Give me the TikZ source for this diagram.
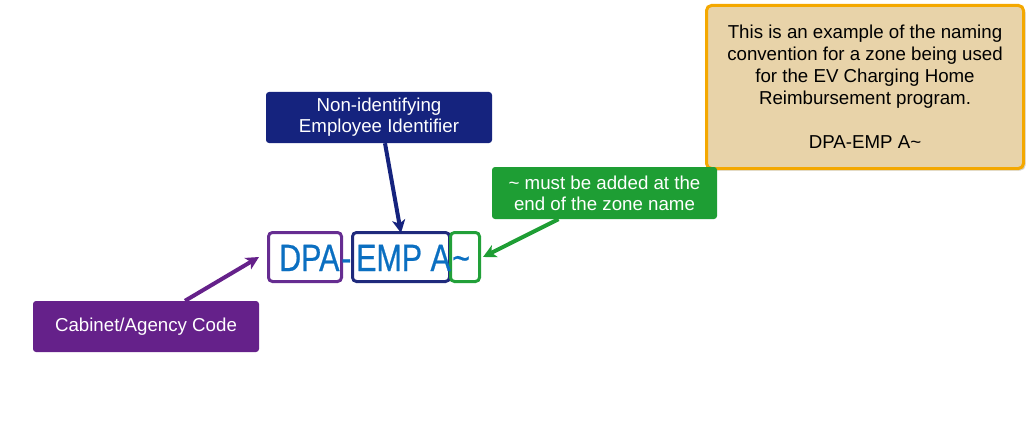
\documentclass[tikz,border=0pt]{standalone}
\usepackage{fontspec}
\setmainfont{Liberation Sans}
\newfontfamily\bigfont[FakeStretch=0.8,FakeBold=0.6]{Liberation Sans}
\usetikzlibrary{shadows,arrows.meta}
\definecolor{navyc}{HTML}{15237E}
\definecolor{greenc}{HTML}{1E9E34}
\definecolor{purplec}{HTML}{65218A}
\definecolor{notefill}{HTML}{E8D3A9}
\definecolor{noteedge}{HTML}{F4A800}
\definecolor{bigblue}{HTML}{0B6FC1}
\definecolor{purpleedge}{HTML}{662D91}
\definecolor{navyedge}{HTML}{1F2A7C}
\definecolor{greenedge}{HTML}{22A039}
\begin{document}
\begin{tikzpicture}[x=1pt,y=-1pt,
  lbl/.style={rounded corners=3pt, inner sep=0pt, align=center, text=white,
    font=\fontsize{18.7}{21}\selectfont},
  partbox/.style={draw, line width=3pt, rounded corners=4pt, inner sep=0pt},
  bigtxt/.style={inner sep=0pt, anchor=base west, text=bigblue, font=\bigfont\fontsize{38}{38}\selectfont},
  conn/.style={line width=4pt, -{Stealth[length=13pt,width=13pt,inset=3.5pt]}}]
\useasboundingbox (0,0) rectangle (1029,444);

\node[draw=noteedge, line width=3pt, fill=notefill, rounded corners=5pt,
  minimum width=317pt, minimum height=163pt, inner sep=0pt, align=center,
  font=\fontsize{18.7}{22}\selectfont,
  drop shadow={shadow xshift=2pt, shadow yshift=-2pt, opacity=0.35}] (note) at (865,87)
  {This is an example of the naming\\convention for a zone being used\\for the EV Charging Home\\Reimbursement program.\\[22pt]DPA-EMP A\textasciitilde};

\node[lbl, fill=navyc, minimum width=226pt, minimum height=51pt] (idbox) at (379,117.5)
  {Non-identifying\\Employee Identifier};
\node[lbl, fill=greenc, minimum width=225pt, minimum height=52pt] (gbox) at (604.5,193)
  {\textasciitilde{} must be added at the\\end of the zone name};
\node[lbl, fill=purplec, minimum width=226pt, minimum height=51pt] (cab) at (146,326.5)
  {Cabinet/Agency Code};

\node[partbox, draw=purpleedge, minimum width=73pt, minimum height=49pt] (dpabox) at (305,257) {};
\node[partbox, draw=navyedge, minimum width=97pt, minimum height=49pt] (empbox) at (401,257) {};
\node[partbox, draw=greenedge, minimum width=29pt, minimum height=49pt] (tbox) at (465,257) {};

\node[bigtxt] (dpa) at (279,271) {DPA};
\node[bigtxt] (dash) at (341,271) {-};
\node[bigtxt] (emp) at (356,271) {EMP A};
\node[bigtxt] (tl) at (452,271) {\textasciitilde};

\draw[conn, navyc] ([xshift=6pt]idbox.south) -- ([yshift=-2pt]empbox.north);
\draw[conn, greenc] ([xshift=-46pt]gbox.south) -- ([xshift=2pt]tbox.east);
\draw[conn, purplec] ([xshift=39pt]cab.north) -- ([xshift=-8pt]dpabox.west);
\end{tikzpicture}
\end{document}
